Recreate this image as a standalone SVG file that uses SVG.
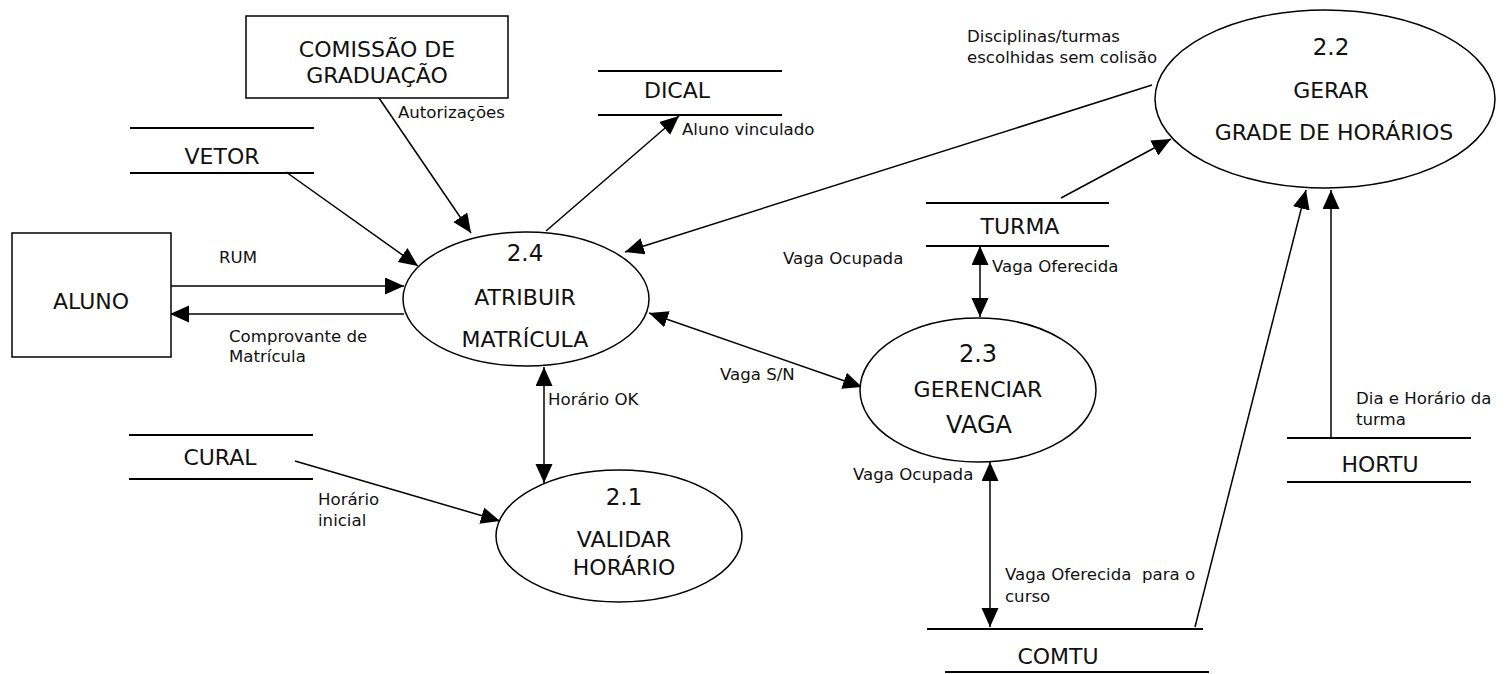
<svg xmlns="http://www.w3.org/2000/svg" width="1505" height="674" viewBox="0 0 1505 674">
<style>
text{font-family:"DejaVu Sans","Liberation Sans",sans-serif;fill:#111}
.big{font-size:22px;text-anchor:middle}
.num{font-size:23px;text-anchor:middle}
.lbl{font-size:16.6px}
.shape{fill:#fff;stroke:#000;stroke-width:1.5}
.store{stroke:#000;stroke-width:2.2}
.flow{stroke:#000;stroke-width:1.5;fill:none;marker-end:url(#ah)}
.both{marker-start:url(#ah)}
</style>
<defs>
<marker id="ah" markerUnits="userSpaceOnUse" markerWidth="22" markerHeight="20" refX="19" refY="8.5" orient="auto-start-reverse">
<path d="M0,0 L19,8.5 L0,17 z" fill="#000"/>
</marker>
</defs>
<g id="connectors">
<line class="flow" x1="379" y1="98" x2="471" y2="233"/>
<line class="flow" x1="286" y1="172" x2="418" y2="266"/>
<line class="flow" x1="171" y1="286" x2="404" y2="286"/>
<line class="flow" x1="404" y1="314" x2="170" y2="314"/>
<line class="flow" x1="546" y1="231" x2="679" y2="116"/>
<line class="flow" x1="1152" y1="85" x2="625" y2="252"/>
<line class="flow both" x1="544" y1="367" x2="544" y2="483"/>
<line class="flow" x1="295" y1="461" x2="500" y2="521"/>
<line class="flow both" x1="649" y1="313" x2="862" y2="387"/>
<line class="flow both" x1="980" y1="246" x2="980" y2="317"/>
<line class="flow" x1="1061" y1="198" x2="1171" y2="139"/>
<line class="flow both" x1="990" y1="462" x2="990" y2="627"/>
<line class="flow" x1="1195" y1="627" x2="1306" y2="190"/>
<line class="flow" x1="1331" y1="438" x2="1331" y2="190"/>
<text class="lbl" x="398" y="118">Autorizações</text>
<text class="lbl" x="682" y="135">Aluno vinculado</text>
<text class="lbl" x="967" y="42">Disciplinas/turmas</text>
<text class="lbl" x="967" y="63">escolhidas sem colisão</text>
<text class="lbl" x="219" y="263">RUM</text>
<text class="lbl" x="229" y="342">Comprovante de</text>
<text class="lbl" x="229" y="362">Matrícula</text>
<text class="lbl" x="548" y="405">Horário OK</text>
<text class="lbl" x="318" y="505">Horário</text>
<text class="lbl" x="318" y="526">inicial</text>
<text class="lbl" x="783" y="264">Vaga Ocupada</text>
<text class="lbl" x="992" y="272">Vaga Oferecida</text>
<text class="lbl" x="720" y="380">Vaga S/N</text>
<text class="lbl" x="853" y="480">Vaga Ocupada</text>
<text class="lbl" x="1005" y="580" style="white-space:pre">Vaga Oferecida  para o</text>
<text class="lbl" x="1005" y="602">curso</text>
<text class="lbl" x="1356" y="404">Dia e Horário da</text>
<text class="lbl" x="1356" y="425">turma</text>
</g>
<g id="comissao">
<rect class="shape" x="246" y="16" width="262" height="82"/>
<text class="big" x="377" y="57">COMISSÃO DE</text>
<text class="big" x="377" y="83">GRADUAÇÃO</text>
</g>
<g id="aluno">
<rect class="shape" x="12" y="233" width="159" height="124"/>
<text class="big" x="91" y="309">ALUNO</text>
</g>
<g id="vetor">
<line class="store" x1="130" y1="128" x2="314" y2="128"/>
<line class="store" x1="130" y1="173" x2="314" y2="173"/>
<text class="big" x="222" y="164">VETOR</text>
</g>
<g id="dical">
<line class="store" x1="598" y1="71" x2="782" y2="71"/>
<line class="store" x1="598" y1="115" x2="782" y2="115"/>
<text class="big" x="677" y="98">DICAL</text>
</g>
<g id="cural">
<line class="store" x1="129" y1="435" x2="313" y2="435"/>
<line class="store" x1="129" y1="479" x2="313" y2="479"/>
<text class="big" x="220" y="465">CURAL</text>
</g>
<g id="turma">
<line class="store" x1="926" y1="203" x2="1109" y2="203"/>
<line class="store" x1="926" y1="246" x2="1109" y2="246"/>
<text class="big" x="1020" y="234">TURMA</text>
</g>
<g id="hortu">
<line class="store" x1="1287" y1="438" x2="1471" y2="438"/>
<line class="store" x1="1287" y1="482" x2="1471" y2="482"/>
<text class="big" x="1380" y="472">HORTU</text>
</g>
<g id="comtu">
<line class="store" x1="927" y1="629" x2="1203" y2="629"/>
<line class="store" x1="945" y1="672" x2="1209" y2="672"/>
<text class="big" x="1058" y="664">COMTU</text>
</g>
<g id="p24">
<ellipse class="shape" cx="526" cy="299" rx="123" ry="67"/>
<text class="num" x="525" y="261">2.4</text>
<text class="big" x="525" y="305">ATRIBUIR</text>
<text class="big" x="525" y="347">MATRÍCULA</text>
</g>
<g id="p21">
<ellipse class="shape" cx="619" cy="536" rx="123" ry="66"/>
<text class="num" x="624" y="505">2.1</text>
<text class="big" x="624" y="547">VALIDAR</text>
<text class="big" x="624" y="575">HORÁRIO</text>
</g>
<g id="p23">
<ellipse class="shape" cx="978" cy="390" rx="118" ry="72"/>
<text class="num" x="978" y="362" style="font-size:24px">2.3</text>
<text class="big" x="978" y="397">GERENCIAR</text>
<text class="big" x="979" y="433" style="font-size:24px">VAGA</text>
</g>
<g id="p22">
<ellipse class="shape" cx="1325" cy="99" rx="170" ry="89"/>
<text class="num" x="1331" y="55">2.2</text>
<text class="big" x="1331" y="98">GERAR</text>
<text class="big" x="1334" y="140">GRADE DE HORÁRIOS</text>
</g>
</svg>
